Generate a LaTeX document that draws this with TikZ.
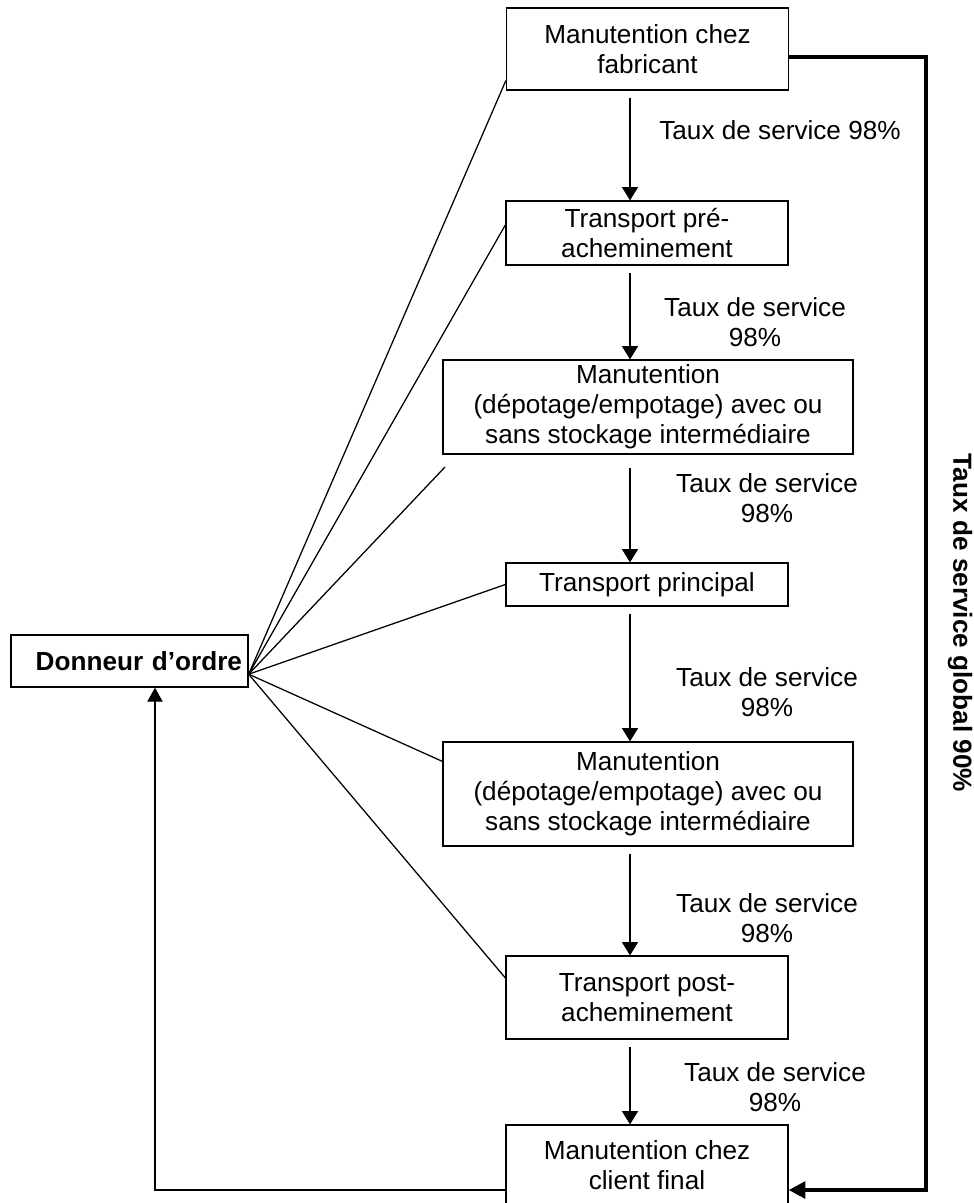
\documentclass[tikz,border=0pt]{standalone}
\usepackage{fontspec}
\setmainfont{Liberation Sans}
\usetikzlibrary{arrows.meta}
\newcommand\diagfont{\fontsize{18.6pt}{21.3pt}\selectfont}

\begin{document}
\begin{tikzpicture}[
  x=0.025cm, y=-0.025cm,
  box/.style={draw, line width=0.9pt, minimum width=#1, inner sep=0pt,
              align=center, font=\diagfont},
  box/.default=7.05cm,
  rate/.style={align=center, font=\diagfont},
  flow/.style={-{Triangle[length=0.33cm, width=0.4cm]}, line width=0.9pt, shorten <=0.18cm},
  back/.style={-{Triangle[length=0.35cm, width=0.38cm]}, line width=0.9pt},
  link/.style={line width=0.9pt},
  global/.style={-{Triangle[length=0.42cm, width=0.42cm]}, line width=2.8pt}
]
  \fill[white] (0,0) rectangle (973,1203);
  \useasboundingbox (0,0) rectangle (973,1203);

  %-- Chaîne logistique
  \node[box, minimum height=2.05cm]         (fab)    at (647.5, 49)  {Manutention chez\\fabricant};
  \node[box, minimum height=1.6cm]          (pre)    at (647, 233)   {Transport pré-\\acheminement};
  \node[box=10.25cm, minimum height=2.35cm] (manu1)  at (648, 407)   {Manutention\\(dépotage/empotage) avec ou\\sans stockage intermédiaire};
  \node[box, minimum height=1.075cm]        (princ)  at (647, 584.5) {Transport principal};
  \node[box=10.25cm, minimum height=2.6cm]  (manu2)  at (648, 794)   {Manutention\\(dépotage/empotage) avec ou\\sans stockage intermédiaire};
  \node[box, minimum height=2.075cm]        (post)   at (647, 997.5) {Transport post-\\acheminement};
  \node[box, minimum height=2cm]            (client) at (647, 1165)  {Manutention chez\\client final};

  %-- Donneur d'ordre
  \node[box=5.925cm, minimum height=1.3cm, text width=5.625cm, inner xsep=0.15cm, align=right]
        (donneur) at (129.5, 661) {\textbf{Donneur d’ordre}};

  %-- Taux de service
  \node[rate] (r1) at (780, 130)  {Taux de service 98\%};
  \node[rate] (r2) at (755, 322)  {Taux de service\\98\%};
  \node[rate] (r3) at (767, 498)  {Taux de service\\98\%};
  \node[rate] (r4) at (767, 692)  {Taux de service\\98\%};
  \node[rate] (r5) at (767, 918)  {Taux de service\\98\%};
  \node[rate] (r6) at (775, 1087) {Taux de service\\98\%};
  \node[rate, font=\diagfont\bfseries, rotate=-90] (glob) at (960, 623) {Taux de service global 90\%};

  %-- Repères
  \coordinate (ax)  at (630, 0);
  \coordinate (fb)  at (155, 0);
  \coordinate (ret) at (926, 1190);
  \coordinate (hub) at ([yshift=-0.33cm]donneur.east);
  \coordinate (gap) at (445, 467);

  %-- Flèches
  \draw[flow] (fab.south -| ax)   -- (pre.north -| ax);
  \draw[flow] (pre.south -| ax)   -- (manu1.north -| ax);
  \draw[flow, shorten <=0.33cm] (manu1.south -| ax) -- (princ.north -| ax);
  \draw[flow] (princ.south -| ax) -- (manu2.north -| ax);
  \draw[flow] (manu2.south -| ax) -- (post.north -| ax);
  \draw[flow] (post.south -| ax)  -- (client.north -| ax);

  \draw[link] (hub) -- ([yshift=0.25cm]fab.south west);
  \draw[link] (hub) -- ([yshift=0.2cm]pre.west);
  \draw[link] (hub) -- (gap);
  \draw[link] (hub) -- (princ.west);
  \draw[link] (hub) -- ([yshift=-0.5cm]manu2.north west);
  \draw[link] (hub) -- ([yshift=0.49cm]post.west);

  \draw[back]   ([yshift=-0.625cm]client.west) -| (donneur.south -| fb);
  \draw[global] ([yshift=-0.2cm]fab.east) -| (ret) |- ([yshift=-0.625cm]client.east);
\end{tikzpicture}
\end{document}
